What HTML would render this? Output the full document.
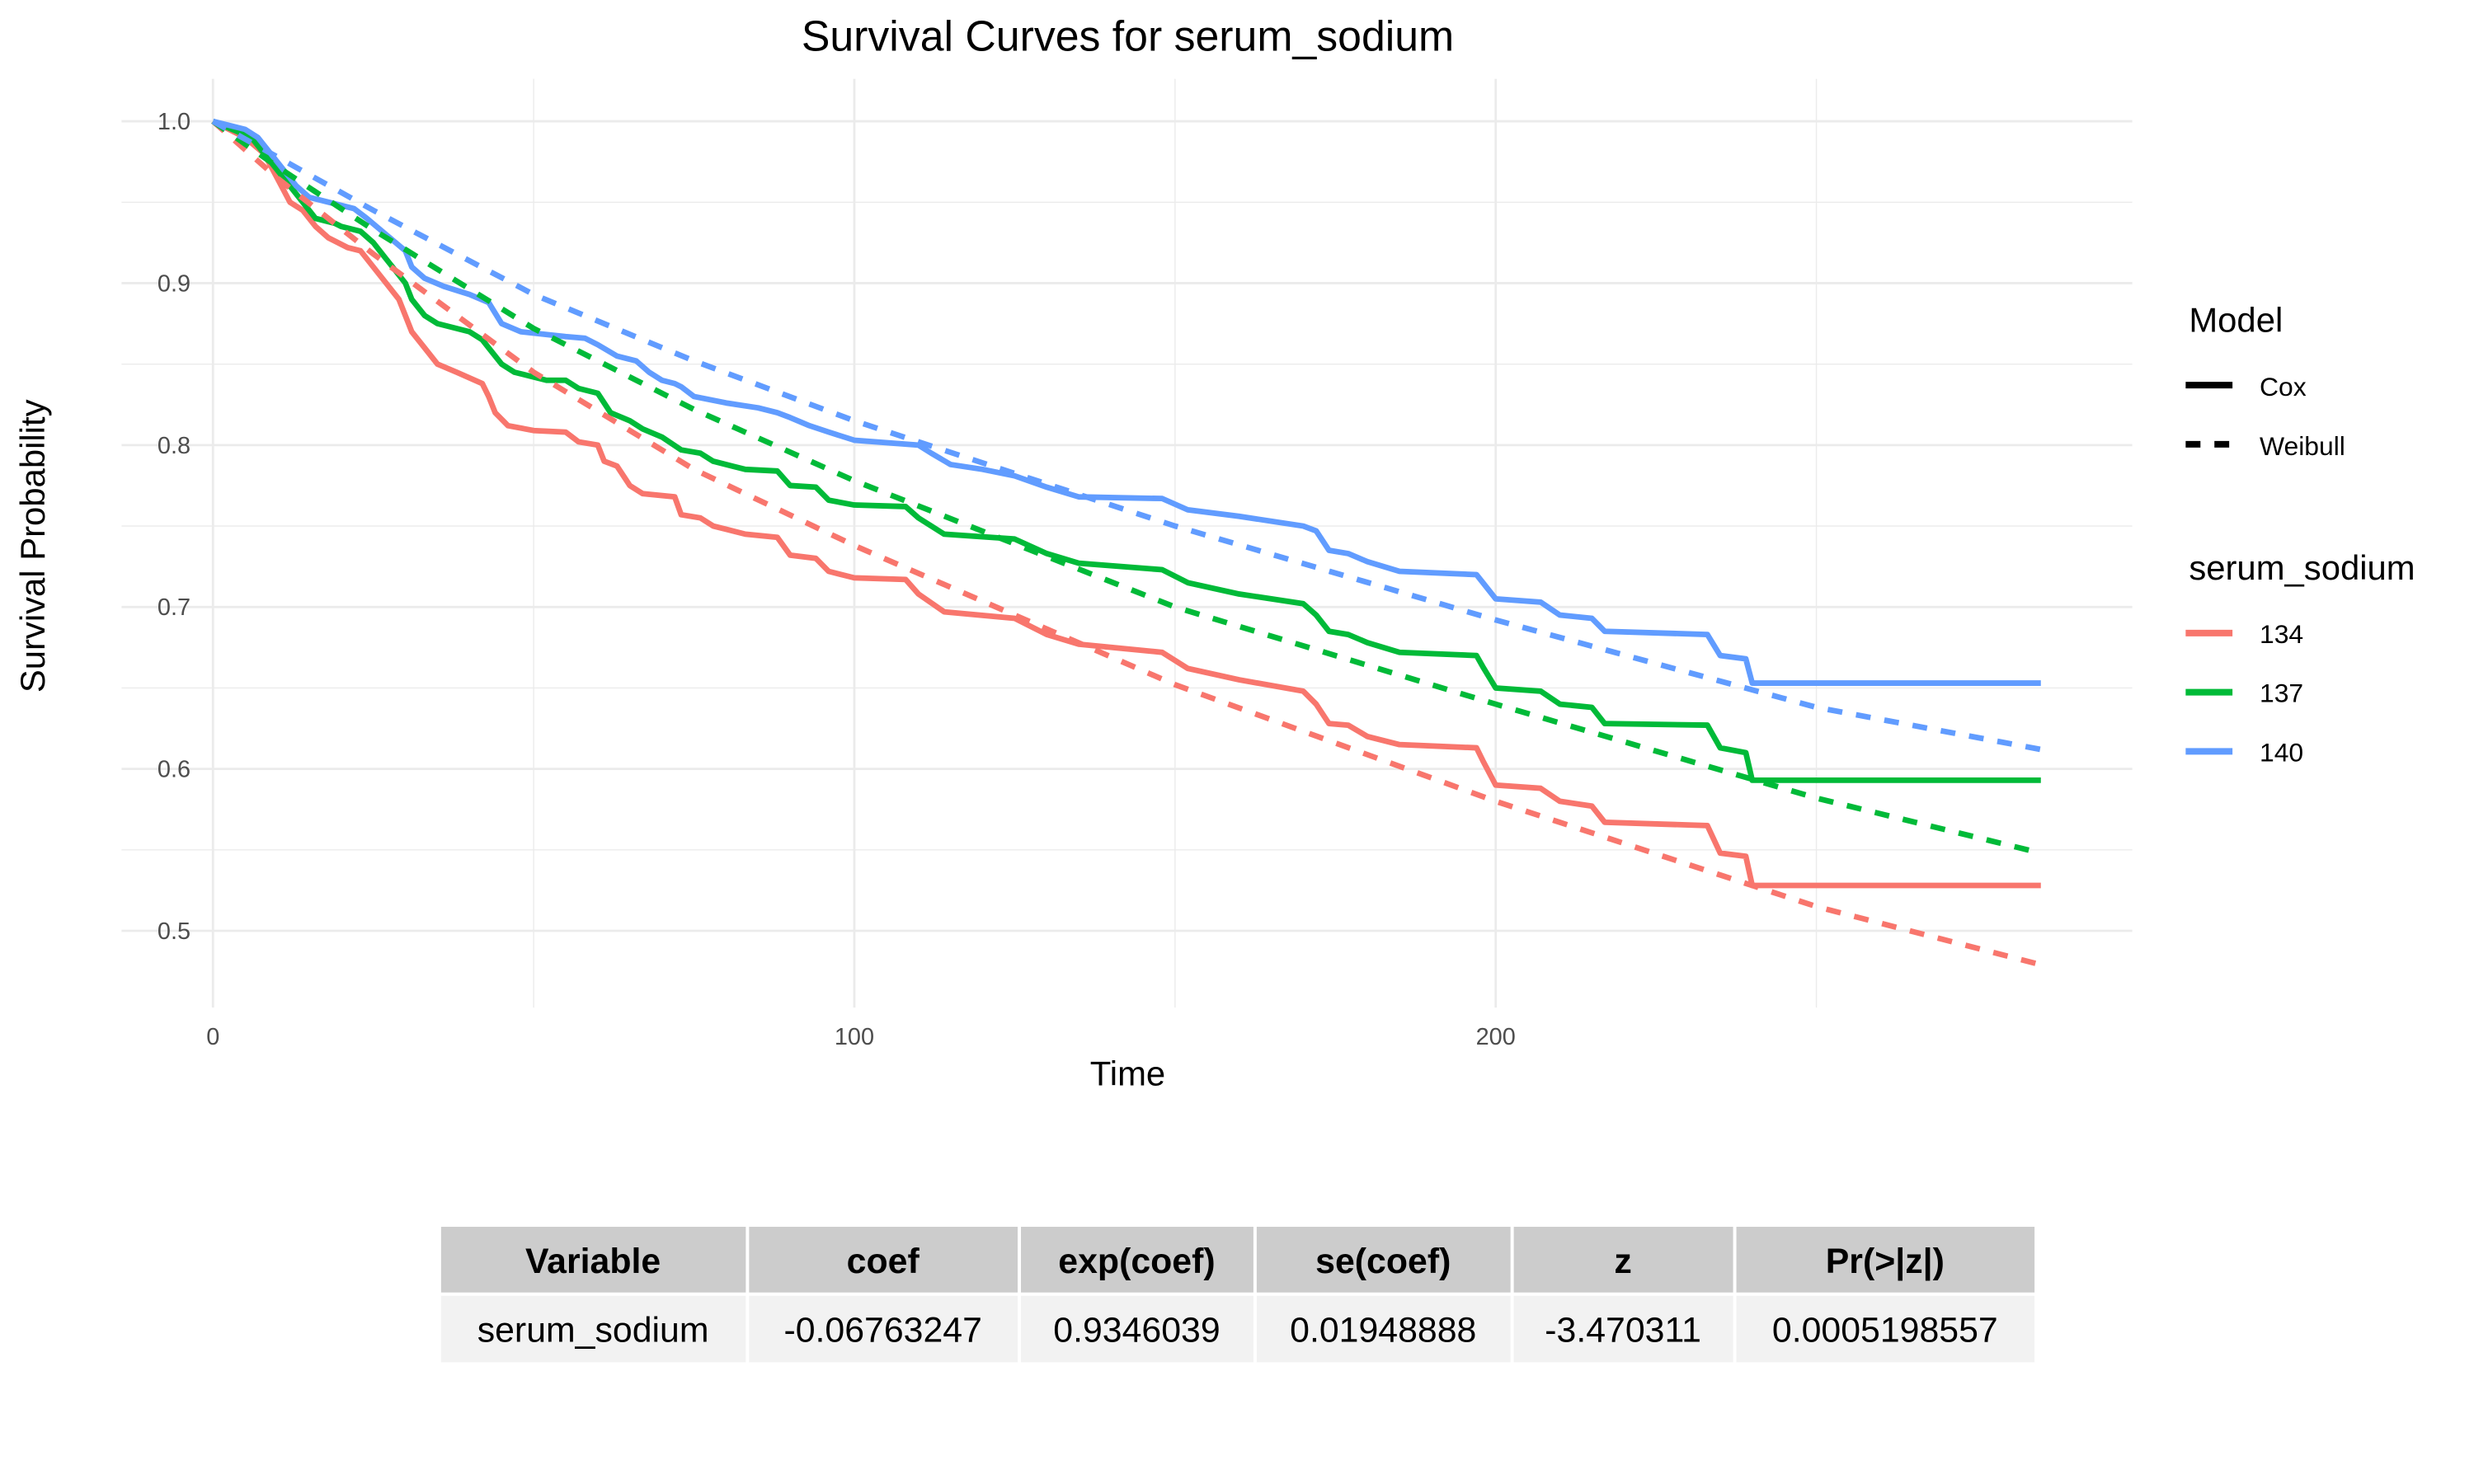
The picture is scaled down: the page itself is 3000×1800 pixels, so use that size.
<!DOCTYPE html>
<html><head><meta charset="utf-8"><style>
body{margin:0;background:#fff;}
svg{display:block;font-family:"Liberation Sans",Arial,sans-serif;}
</style></head><body>
<svg id="chart" width="3000" height="1800" viewBox="0 0 3000 1800">
<g transform="scale(0.996)">
<g id="grid"></g>
<g id="series"></g>
<g id="axes"></g>
<text x="1373" y="62" font-size="52" text-anchor="middle" fill="#000">Survival Curves for serum_sodium</text>
<text x="1373" y="1322" font-size="42" text-anchor="middle" fill="#000">Time</text>
<text transform="translate(54,665) rotate(-90)" font-size="42" text-anchor="middle" fill="#000">Survival Probability</text>
<g>
<text x="2665" y="404" font-size="42">Model</text>
<line x1="2661" x2="2718" y1="469" y2="469" stroke="#000" stroke-width="8"/>
<text x="2751" y="482" font-size="32">Cox</text>
<line x1="2661" x2="2718" y1="541" y2="541" stroke="#000" stroke-width="8" stroke-dasharray="18 17"/>
<text x="2751" y="554" font-size="32">Weibull</text>
<text x="2665" y="706" font-size="42">serum_sodium</text>
<line x1="2661" x2="2718" y1="771" y2="771" stroke="#F8766D" stroke-width="8"/>
<text x="2751" y="783" font-size="32">134</text>
<line x1="2661" x2="2718" y1="843" y2="843" stroke="#00BA38" stroke-width="8"/>
<text x="2751" y="855" font-size="32">137</text>
<line x1="2661" x2="2718" y1="915" y2="915" stroke="#619CFF" stroke-width="8"/>
<text x="2751" y="927" font-size="32">140</text>
</g>
<g font-size="43" text-anchor="middle">
<rect x="537" y="1494" width="371" height="80" fill="#cccccc"/>
<rect x="912" y="1494" width="327" height="80" fill="#cccccc"/>
<rect x="1243" y="1494" width="283" height="80" fill="#cccccc"/>
<rect x="1530" y="1494" width="309" height="80" fill="#cccccc"/>
<rect x="1843" y="1494" width="267" height="80" fill="#cccccc"/>
<rect x="2114" y="1494" width="363" height="80" fill="#cccccc"/>
<rect x="537" y="1578" width="371" height="81" fill="#f2f2f2"/>
<rect x="912" y="1578" width="327" height="81" fill="#f2f2f2"/>
<rect x="1243" y="1578" width="283" height="81" fill="#f2f2f2"/>
<rect x="1530" y="1578" width="309" height="81" fill="#f2f2f2"/>
<rect x="1843" y="1578" width="267" height="81" fill="#f2f2f2"/>
<rect x="2114" y="1578" width="363" height="81" fill="#f2f2f2"/>
<g font-weight="bold">
<text x="722" y="1550">Variable</text>
<text x="1075" y="1550">coef</text>
<text x="1384" y="1550">exp(coef)</text>
<text x="1684" y="1550">se(coef)</text>
<text x="1976" y="1550">z</text>
<text x="2295" y="1550">Pr(&gt;|z|)</text>
</g>
<text x="722" y="1634">serum_sodium</text>
<text x="1075" y="1634">-0.06763247</text>
<text x="1384" y="1634">0.9346039</text>
<text x="1684" y="1634">0.01948888</text>
<text x="1976" y="1634">-3.470311</text>
<text x="2295" y="1634">0.0005198557</text>
</g>
</g>
</svg>
<script>
const groups = ["134","137","140"];
const colors = ["#F8766D","#00BA38","#619CFF"];
const coxT134 = [0,5,8,10,12,14,16,18,21,23,25,27,29,30,31,33,35,38,42,43,44,46,50,55,57,60,61,63,65,67,72,73,76,78,80,83,88,90,94,96,100,108,110,114,125,130,135,148,152,160,170,172,174,177,180,185,197,198,200,207,210,215,217,233,235,239,240,285];
const coxS134 = [1,0.99,0.98,0.965,0.95,0.945,0.935,0.928,0.922,0.92,0.91,0.9,0.89,0.88,0.87,0.86,0.85,0.845,0.838,0.83,0.82,0.812,0.809,0.808,0.802,0.8,0.79,0.787,0.775,0.77,0.768,0.757,0.755,0.75,0.748,0.745,0.743,0.732,0.73,0.722,0.718,0.717,0.708,0.697,0.693,0.683,0.677,0.672,0.662,0.655,0.648,0.64,0.628,0.627,0.62,0.615,0.613,0.605,0.59,0.588,0.58,0.577,0.567,0.565,0.548,0.546,0.528,0.528];
const coxT137 = [0,6,8,10,12,14,16,19,20,23,25,27,28,30,31,33,35,40,42,43,45,47,52,55,57,60,62,65,67,70,73,76,78,80,83,88,90,94,96,100,108,110,114,125,130,135,148,152,160,170,172,174,177,180,185,197,198,200,207,210,215,217,233,235,239,240,285];
const coxS137 = [1,0.99,0.98,0.97,0.96,0.95,0.94,0.937,0.935,0.932,0.925,0.915,0.91,0.9,0.89,0.88,0.875,0.87,0.865,0.86,0.85,0.845,0.84,0.84,0.835,0.832,0.82,0.815,0.81,0.805,0.797,0.795,0.79,0.788,0.785,0.784,0.775,0.774,0.766,0.763,0.762,0.755,0.745,0.742,0.733,0.727,0.723,0.715,0.708,0.702,0.695,0.685,0.683,0.678,0.672,0.67,0.663,0.65,0.648,0.64,0.638,0.628,0.627,0.613,0.61,0.593,0.593];
const coxT140 = [0,5,7,9,11,13,15,18,22,24,27,30,31,33,36,40,43,45,48,55,58,60,63,66,68,70,72,73,75,80,85,88,90,93,96,100,110,112,115,120,125,130,135,148,152,160,170,172,174,177,180,185,197,198,200,207,210,215,217,233,235,239,240,285];
const coxS140 = [1,0.995,0.99,0.98,0.97,0.96,0.953,0.95,0.946,0.94,0.93,0.92,0.91,0.903,0.898,0.893,0.888,0.875,0.87,0.867,0.866,0.862,0.855,0.852,0.845,0.84,0.838,0.836,0.83,0.826,0.823,0.82,0.817,0.812,0.808,0.803,0.8,0.795,0.788,0.785,0.781,0.774,0.768,0.767,0.76,0.756,0.75,0.747,0.735,0.733,0.728,0.722,0.72,0.715,0.705,0.703,0.695,0.693,0.685,0.683,0.67,0.668,0.653,0.653];
const weibT = [0,10,25,50,75,100,150,200,250,285];
const weibS134 = [1,0.965,0.918,0.845,0.785,0.738,0.652,0.58,0.515,0.479];
const weibS137 = [1,0.972,0.933,0.872,0.822,0.778,0.7,0.64,0.582,0.548];
const weibS140 = [1,0.978,0.945,0.893,0.852,0.815,0.75,0.692,0.638,0.612];
const xTicks = [0,100,200];
const xMinor = [50,150,250];
const yTicks = [0.5,0.6,0.7,0.8,0.9,1.0];
const yTickLabels = ["0.5","0.6","0.7","0.8","0.9","1.0"];
const yMinor = [0.55,0.65,0.75,0.85,0.95];

const NS="http://www.w3.org/2000/svg";
const PL=148, PR=2596, PT=96, PB=1227;
const X0=-14.25, X1=299.25, Y0=0.4526, Y1=1.0262;
function sx(t){return PL+(t-X0)/(X1-X0)*(PR-PL);}
function sy(s){return PB-(s-Y0)/(Y1-Y0)*(PB-PT);}
function mk(tag,attrs,parent){const e=document.createElementNS(NS,tag);for(const k in attrs)e.setAttribute(k,attrs[k]);parent.appendChild(e);return e;}
const grid=document.getElementById('grid'), series=document.getElementById('series'), axes=document.getElementById('axes');
xMinor.forEach(v=>{const l=mk('line',{x1:sx(v),x2:sx(v),y1:PT,y2:PB,stroke:'#ebebeb','stroke-width':1.4},grid);

});
yMinor.forEach(v=>{const l=mk('line',{x1:PL,x2:PR,y1:sy(v),y2:sy(v),stroke:'#ebebeb','stroke-width':1.4},grid);

});
xTicks.forEach(v=>{const l=mk('line',{x1:sx(v),x2:sx(v),y1:PT,y2:PB,stroke:'#ebebeb','stroke-width':2.8},grid);


const t=mk('text',{x:sx(v),y:1272,'font-size':29,'text-anchor':'middle',fill:'#4d4d4d'},axes);t.textContent=String(v);

});
yTicks.forEach((v,i)=>{const l=mk('line',{x1:PL,x2:PR,y1:sy(v),y2:sy(v),stroke:'#ebebeb','stroke-width':2.8},grid);


const t=mk('text',{x:232,y:sy(v)+10,'font-size':29,'text-anchor':'end',fill:'#4d4d4d'},axes);t.textContent=yTickLabels[i];

});
function path(ts,ss){return ts.map((t,i)=>(i?'L':'M')+sx(t).toFixed(1)+','+sy(ss[i]).toFixed(1)).join(' ');}
const coxT=[coxT134,coxT137,coxT140], coxS=[coxS134,coxS137,coxS140], weibS=[weibS134,weibS137,weibS140];
groups.forEach((g,i)=>{
const p=mk('path',{d:path(coxT[i],coxS[i]),fill:'none',stroke:colors[i],'stroke-width':6.8,'stroke-linejoin':'round'},series);

});
groups.forEach((g,i)=>{
const p=mk('path',{d:path(weibT,weibS[i]),fill:'none',stroke:colors[i],'stroke-width':6.8,'stroke-dasharray':'18 17'},series);

});
</script>
</body></html>
